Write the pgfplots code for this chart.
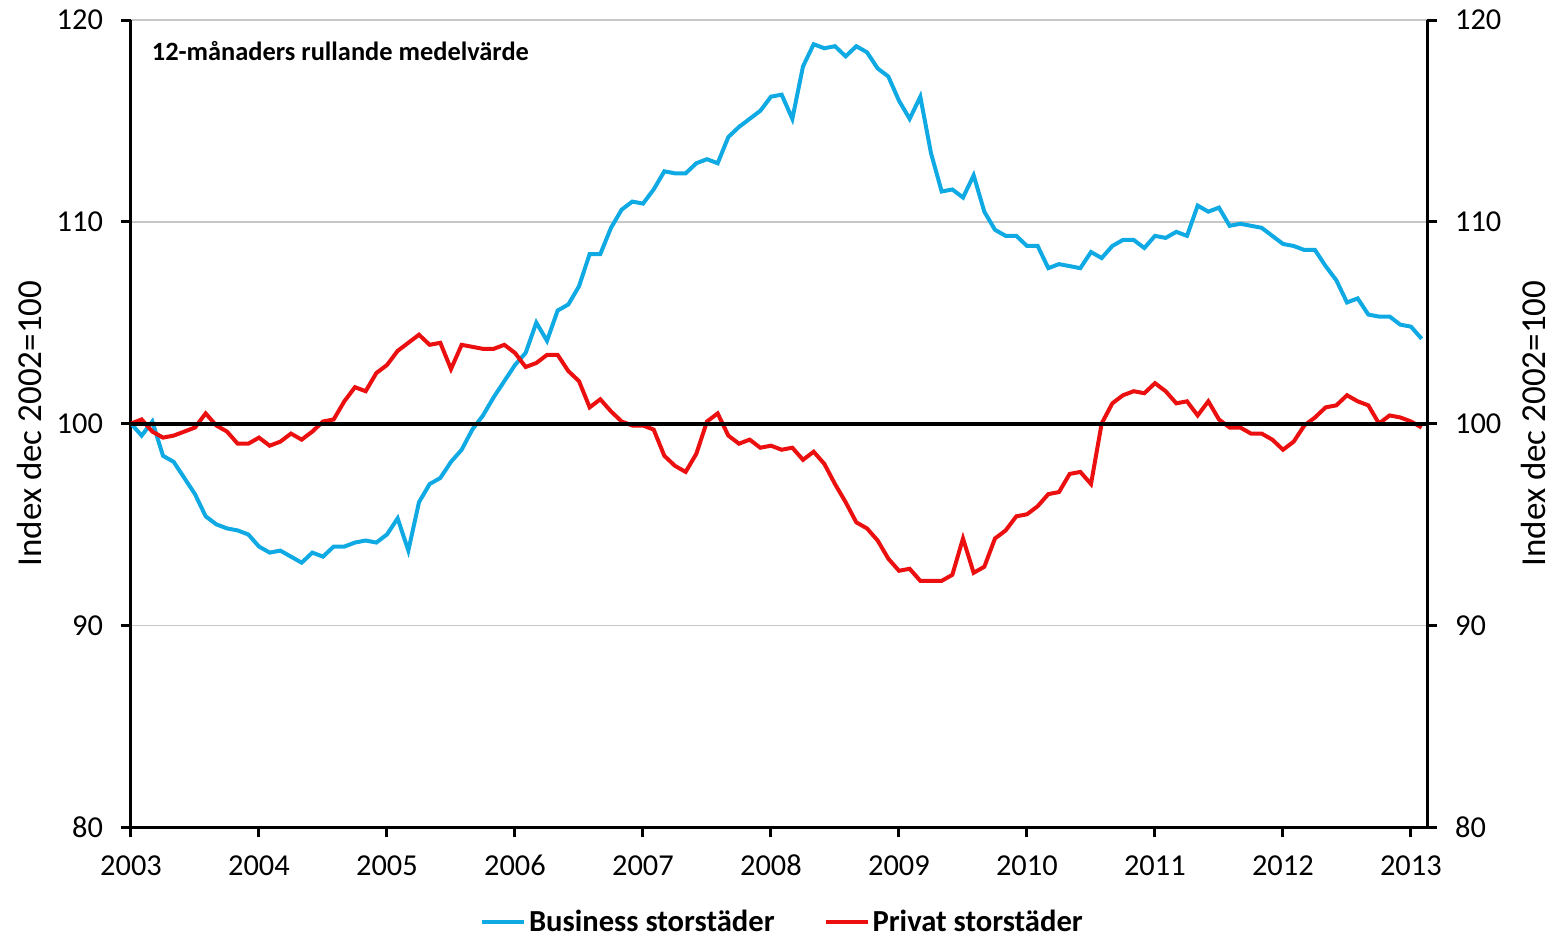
\documentclass[border=0pt]{standalone}
\usepackage{pgfplots}
\pgfplotsset{compat=1.18}
\usepackage{pgfplotstable}
\usepackage{fontspec}
\setmainfont{Carlito}
\definecolor{bblue}{RGB}{15,170,228}
\definecolor{rred}{RGB}{235,15,15}

\pgfplotstableread{
i b r
0 100.0 100.0
1 99.4 100.2
2 100.1 99.6
3 98.4 99.3
4 98.1 99.4
5 97.3 99.6
6 96.5 99.8
7 95.4 100.5
8 95.0 99.9
9 94.8 99.6
10 94.7 99.0
11 94.5 99.0
12 93.9 99.3
13 93.6 98.9
14 93.7 99.1
15 93.4 99.5
16 93.1 99.2
17 93.6 99.6
18 93.4 100.1
19 93.9 100.2
20 93.9 101.1
21 94.1 101.8
22 94.2 101.6
23 94.1 102.5
24 94.5 102.9
25 95.3 103.6
26 93.7 104.0
27 96.1 104.4
28 97.0 103.9
29 97.3 104.0
30 98.1 102.7
31 98.7 103.9
32 99.7 103.8
33 100.4 103.7
34 101.3 103.7
35 102.1 103.9
36 102.9 103.5
37 103.5 102.8
38 105.0 103.0
39 104.1 103.4
40 105.6 103.4
41 105.9 102.6
42 106.8 102.1
43 108.4 100.8
44 108.4 101.2
45 109.7 100.6
46 110.6 100.1
47 111.0 99.9
48 110.9 99.9
49 111.6 99.7
50 112.5 98.4
51 112.4 97.9
52 112.4 97.6
53 112.9 98.5
54 113.1 100.1
55 112.9 100.5
56 114.2 99.4
57 114.7 99.0
58 115.1 99.2
59 115.5 98.8
60 116.2 98.9
61 116.3 98.7
62 115.1 98.8
63 117.7 98.2
64 118.8 98.6
65 118.6 98.0
66 118.7 97.0
67 118.2 96.1
68 118.7 95.1
69 118.4 94.8
70 117.6 94.2
71 117.2 93.3
72 116.0 92.7
73 115.1 92.8
74 116.2 92.2
75 113.4 92.2
76 111.5 92.2
77 111.6 92.5
78 111.2 94.3
79 112.3 92.6
80 110.5 92.9
81 109.6 94.3
82 109.3 94.7
83 109.3 95.4
84 108.8 95.5
85 108.8 95.9
86 107.7 96.5
87 107.9 96.6
88 107.8 97.5
89 107.7 97.6
90 108.5 97.0
91 108.2 100.0
92 108.8 101.0
93 109.1 101.4
94 109.1 101.6
95 108.7 101.5
96 109.3 102.0
97 109.2 101.6
98 109.5 101.0
99 109.3 101.1
100 110.8 100.4
101 110.5 101.1
102 110.7 100.2
103 109.8 99.8
104 109.9 99.8
105 109.8 99.5
106 109.7 99.5
107 109.3 99.2
108 108.9 98.7
109 108.8 99.1
110 108.6 99.9
111 108.6 100.3
112 107.8 100.8
113 107.1 100.9
114 106.0 101.4
115 106.2 101.1
116 105.4 100.9
117 105.3 100.0
118 105.3 100.4
119 104.9 100.3
120 104.8 100.1
121 104.2 99.8
}\data

\begin{document}
\begin{tikzpicture}
\pgfplotsset{
  base/.style={
    width=648pt, height=403.5pt, scale only axis,
    at={(0,0)}, anchor=south west,
    xmin=2003, xmax=2013.125, ymin=80, ymax=120,
    ytick={80,90,...,120},
    tick align=outside, major tick length=5pt,
    axis line style={line width=1.5pt,-},
    tick style={line width=1.5pt,black},
    ticklabel style={font=\fontsize{15.2}{18}\selectfont},
    /pgf/number format/assume math mode=true,
    label style={font=\fontsize{17.5}{20}\selectfont},
  }
}
\begin{axis}[base,
  axis x line*=bottom, axis y line*=left,
  xtick={2003,2004,...,2013},
  x tick label style={/pgf/number format/1000 sep={}, text height=10.5pt, text depth=0pt, yshift=-5pt},
  y tick label style={xshift=-5.5pt},
  ymajorgrids, grid style={line width=0.75pt, black!22},
  ylabel={Index dec 2002=100},
  ylabel style={at={(axis description cs:-0.078,0.5)}, anchor=center},
  legend style={at={(0.503,-0.118)}, anchor=center, draw=none, fill=none,
    legend columns=2, font=\bfseries\fontsize{15.3}{18}\selectfont,
    /tikz/every even column/.append style={column sep=23pt},
    nodes={inner xsep=1.5pt},
    inner sep=0pt},
  legend image code/.code={\draw[#1,line width=2pt] (0pt,0pt) -- (21pt,0pt);},
]
\addplot[bblue, line width=2pt] table[x expr=2003+\thisrow{i}/12, y=b] {\data};
\addlegendentry{Business storst\"ader}
\addplot[rred, line width=2pt] table[x expr=2003+\thisrow{i}/12, y=r] {\data};
\addlegendentry{Privat storst\"ader}
\addplot[black, line width=2pt, forget plot] coordinates {(2003,100) (2013.125,100)};
\node[anchor=west, inner sep=0pt, font=\bfseries\fontsize{13.2}{15}\selectfont] at (axis cs:2003.16,118.45) {12-månaders rullande medelvärde};
\end{axis}
\begin{axis}[base,
  axis x line=none, axis y line*=right,
  y tick label style={xshift=5.5pt},
  ylabel={Index dec 2002=100},
  ylabel style={at={(axis description cs:1.0822,0.5)}, anchor=center, rotate=0},
]
\end{axis}
\path (-65.5pt,-54.5pt) rectangle (712pt,413.5pt);
\end{tikzpicture}
\end{document}
